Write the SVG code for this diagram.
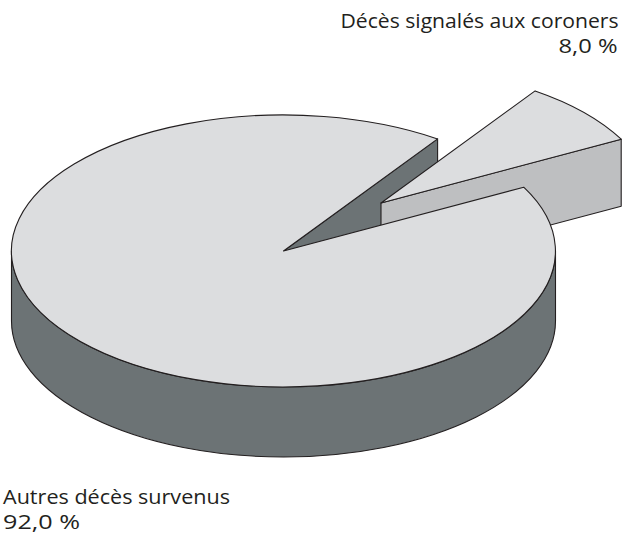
<svg xmlns="http://www.w3.org/2000/svg" width="624" height="535" viewBox="0 0 624 535">
<style>
.ln{stroke:#231f20;stroke-width:1.1;stroke-linejoin:round}
.top{fill:#dcdddf}
.dark{fill:#6c7375}
.mid{fill:#bebfc1}
.lbl{font-family:"Open Sans","Liberation Sans",sans-serif;font-size:20px;fill:#231f20}
</style>
<rect width="624" height="535" fill="#ffffff"/>
<g id="autres-cut">
<path class="ln dark" d="M283.5 251 L437.6 138.9 L437.6 208.9 L283.5 321 Z"/>
</g>
<g id="coroners">
<path class="ln mid" d="M381 203 L621.2 139.2 L621.2 206.2 L381 270 Z"/>
<path class="ln top" d="M381 203 L621.2 139.2 A272 136 0 0 0 535.1 90.9 Z"/>
</g>
<g id="autres">
<path class="ln dark" d="M11.5 251 A272 136 0 0 0 555.5 251 L555.5 321 A272 136 0 0 1 11.5 321 Z"/>
<path class="ln top" d="M283.5 251 L523.7 187.2 A272 136 0 1 1 437.6 138.9 Z"/>
</g>
<g id="labels">
<text class="lbl" x="618.5" y="28" text-anchor="end" textLength="278" lengthAdjust="spacingAndGlyphs">Décès signalés aux coroners</text>
<text class="lbl" x="617.5" y="53" text-anchor="end" textLength="59" lengthAdjust="spacingAndGlyphs">8,0 %</text>
<text class="lbl" x="3" y="503.5" textLength="227" lengthAdjust="spacingAndGlyphs">Autres décès survenus</text>
<text class="lbl" x="3" y="528.5" textLength="77" lengthAdjust="spacingAndGlyphs">92,0 %</text>
</g>
</svg>
